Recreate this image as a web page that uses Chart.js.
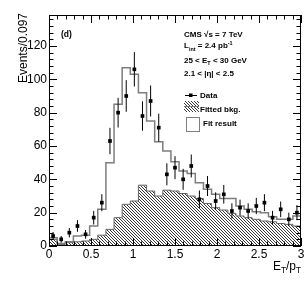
<!DOCTYPE html>
<html><head><meta charset="utf-8">
<script src="https://cdn.jsdelivr.net/npm/chart.js@4"></script>
<style>html,body{margin:0;padding:0;background:#fff;}#wrap{width:307px;height:283px;}</style>
</head><body><div id="wrap"><canvas id="c" width="307" height="283"></canvas></div>
<script>
// ---- data ----
const rangeLo = 0, rangeHi = 3, nBins = 31;           // bins of width 0.097
const dataCounts = [6, 4, 8, 12, 7, 17, 26, 63, 80, 90, 106, 78, 87, 71, 43, 47, 40, 48, 28, 36, 27, 31, 21, 23, 21, 24, 26, 17, 22, 16, 20];
const dataErrors = [2.4, 2.0, 2.8, 3.5, 2.6, 4.1, 5.1, 7.9, 8.9, 9.5, 10.3, 8.8, 9.3, 8.4, 6.6, 6.9, 6.3, 6.9, 5.3, 6.0, 5.2, 5.6, 4.6, 4.8, 4.6, 4.9, 5.1, 4.1, 4.7, 4.0, 4.5];
const fitResult  = [5, 1.5, 2.5, 6, 6.5, 12, 22, 50, 85, 107, 103, 92, 75, 62.5, 57, 50.5, 45, 43.5, 38, 34, 31, 28.5, 28.5, 24, 22, 20.5, 20, 17.5, 16, 16, 18];
const fittedBkg  = [4, 1, 2, 2.5, 3, 4, 6.5, 10, 17, 25, 27, 36.5, 33, 30, 33.5, 33, 31.5, 30, 28.5, 25.5, 23, 21.6, 19.6, 18, 17, 16, 15, 14.5, 13.5, 13, 12];
const xTickValues = [0, 0.5, 1, 1.5, 2, 2.5, 3];
const xTickLabels = ['0', '0.5', '1', '1.5', '2', '2.5', '3'];
const yTickValues = [0, 20, 40, 60, 80, 100, 120];
const yTickLabels = ['0', '20', '40', '60', '80', '100', '120'];
const yMax = 138.6;
const xMinorStep = 0.1, yMinorStep = 4;

// ---- helpers ----
const binW = (rangeHi - rangeLo) / nBins;
function histPoints(vals) {
  const pts = vals.map((v, i) => ({x: rangeLo + i * binW, y: v}));
  pts.push({x: rangeHi, y: vals[vals.length - 1]});
  return pts;
}
const dataPts = dataCounts.map((v, i) => ({x: rangeLo + (i + 0.5) * binW, y: v}));
const errPts = [];
dataCounts.forEach((v, i) => {
  const cx = rangeLo + (i + 0.5) * binW;
  errPts.push({x: cx, y: v - dataErrors[i]}, {x: cx, y: v + dataErrors[i]}, {x: cx, y: null});
});

const hatch = (() => {
  const c = document.createElement('canvas'); c.width = 3; c.height = 3;
  const g = c.getContext('2d');
  g.fillStyle = '#3a3a3a';
  for (let i = 0; i < 3; i++) g.fillRect(i, i, 1, 1);
  return g.createPattern(c, 'repeat');
})();

const FONT = '"Liberation Sans", Arial, Helvetica, sans-serif';
function rich(ctx, x, y, parts, size, weight) {
  let cx = x;
  for (const p of parts) {
    const fs = p.s ? size * 0.68 : size;
    ctx.font = `${weight} ${fs}px ${FONT}`;
    const dy = p.s === 'sub' ? size * 0.28 : (p.s === 'sup' ? -size * 0.38 : 0);
    ctx.fillText(p.t, cx, y + dy);
    cx += ctx.measureText(p.t).width;
  }
  return cx - x;
}
function richWidth(ctx, parts, size, weight) {
  let w = 0;
  for (const p of parts) {
    const fs = p.s ? size * 0.68 : size;
    ctx.font = `${weight} ${fs}px ${FONT}`;
    w += ctx.measureText(p.t).width;
  }
  return w;
}

const decor = {
  id: 'decor',
  afterDraw(chart) {
    const {ctx, chartArea: a, scales: {x, y}} = chart;
    ctx.save();
    ctx.strokeStyle = '#000'; ctx.lineWidth = 1;
    ctx.beginPath();
    const nx = Math.round((rangeHi - rangeLo) / xMinorStep);
    for (let k = 0; k <= nx; k++) {
      const v = rangeLo + k * xMinorStep;
      const px = Math.round(x.getPixelForValue(v)) + 0.5;
      const major = xTickValues.some(t => Math.abs(t - v) < 1e-6);
      const len = major ? 8 : 4.5;
      ctx.moveTo(px, a.bottom); ctx.lineTo(px, a.bottom - len);
      ctx.moveTo(px, a.top); ctx.lineTo(px, a.top + len);
    }
    for (let v = 0; v <= yMax; v += yMinorStep) {
      const py = Math.round(y.getPixelForValue(v)) + 0.5;
      const major = yTickValues.some(t => Math.abs(t - v) < 1e-6);
      const len = major ? 8 : 4.5;
      ctx.moveTo(a.left, py); ctx.lineTo(a.left + len, py);
      ctx.moveTo(a.right, py); ctx.lineTo(a.right - len, py);
    }
    ctx.stroke();
    ctx.strokeRect(Math.round(a.left) + 0.5, Math.round(a.top) + 0.5,
                   Math.round(a.right - a.left) - 1, Math.round(a.bottom - a.top) - 1);

    ctx.fillStyle = '#000';
    ctx.textBaseline = 'alphabetic';
    ctx.textAlign = 'left';
    // axis titles
    ctx.save();
    ctx.translate(27, 13);
    ctx.rotate(-Math.PI / 2);
    ctx.textAlign = 'right';
    ctx.font = `12px ${FONT}`;
    ctx.fillText('Events/0.097', 0, 0);
    ctx.restore();
    const xt = [{t: 'E'}, {t: 'T', s: 'sub'}, {t: '/p'}, {t: 'T', s: 'sub'}];
    const xw = richWidth(ctx, xt, 12, 'normal');
    rich(ctx, 301 - xw, 270, xt, 12, 'normal');

    // annotations
    rich(ctx, 61, 36.5, [{t: '(d)'}], 8.5, 'bold');
    const S = 8;
    rich(ctx, 184, 36.7, [{t: 'CMS \u221As = 7 TeV'}], S, 'bold');
    rich(ctx, 184, 48.3, [{t: 'L'}, {t: 'int', s: 'sub'}, {t: ' = 2.4 pb'}, {t: '-1', s: 'sup'}], S, 'bold');
    rich(ctx, 184, 62.5, [{t: '25 < E'}, {t: 'T', s: 'sub'}, {t: ' < 30 GeV'}], S, 'bold');
    rich(ctx, 184, 76, [{t: '2.1 < |\u03B7| < 2.5'}], S, 'bold');

    // legend
    ctx.beginPath();
    ctx.moveTo(185, 95.5); ctx.lineTo(197, 95.5);
    ctx.strokeStyle = '#000'; ctx.stroke();
    ctx.fillRect(189, 93.5, 3.5, 3.5);
    rich(ctx, 200, 97.7, [{t: 'Data'}], S, 'bold');

    ctx.fillStyle = hatch;
    ctx.fillRect(184, 101, 15, 11);
    ctx.beginPath(); ctx.moveTo(184, 106.5); ctx.lineTo(199, 106.5);
    ctx.strokeStyle = '#777'; ctx.stroke();
    ctx.fillStyle = '#000';
    rich(ctx, 200, 111.7, [{t: 'Fitted bkg.'}], S, 'bold');

    ctx.strokeStyle = '#808080';
    ctx.strokeRect(186.5, 117.5, 13, 14);
    rich(ctx, 203, 126, [{t: 'Fit result'}], S, 'bold');
    ctx.restore();
  }
};

new Chart(document.getElementById('c'), {
  type: 'line',
  data: {
    datasets: [
      {data: dataPts, showLine: false, pointStyle: 'rect', pointRadius: 2.6,
       pointBackgroundColor: '#000', pointBorderWidth: 0, order: 0},
      {data: errPts, borderColor: '#000', borderWidth: 1, pointRadius: 0, spanGaps: false, order: 1},
      {data: histPoints(fitResult), stepped: true, borderColor: '#7d7d7d', borderWidth: 1.5,
       pointRadius: 0, fill: false, order: 2},
      {data: histPoints(fittedBkg), stepped: true, borderColor: '#666', borderWidth: 1,
       pointRadius: 0, fill: 'origin', backgroundColor: hatch, order: 3}
    ]
  },
  options: {
    responsive: false, animation: false, events: [],
    layout: {padding: {top: 15, right: 6, left: 0, bottom: 0}},
    plugins: {legend: {display: false}, tooltip: {enabled: false}},
    scales: {
      x: {
        type: 'linear', min: rangeLo, max: rangeHi,
        afterBuildTicks: s => { s.ticks = xTickValues.map(v => ({value: v})); },
        afterFit: s => { s.height = 37; },
        grid: {display: false, drawTicks: false}, border: {display: false},
        ticks: {autoSkip: false, maxRotation: 0, padding: 1, color: '#000',
                font: {family: FONT, size: 12},
                callback: (v, i) => xTickLabels[i]}
      },
      y: {
        type: 'linear', min: 0, max: yMax,
        afterBuildTicks: s => { s.ticks = yTickValues.map(v => ({value: v})); },
        afterFit: s => { s.width = 49; },
        grid: {display: false, drawTicks: false}, border: {display: false},
        ticks: {padding: 2, color: '#000', font: {family: FONT, size: 12},
                callback: (v, i) => yTickLabels[i]}
      }
    }
  },
  plugins: [decor]
});
</script>
</body></html>
